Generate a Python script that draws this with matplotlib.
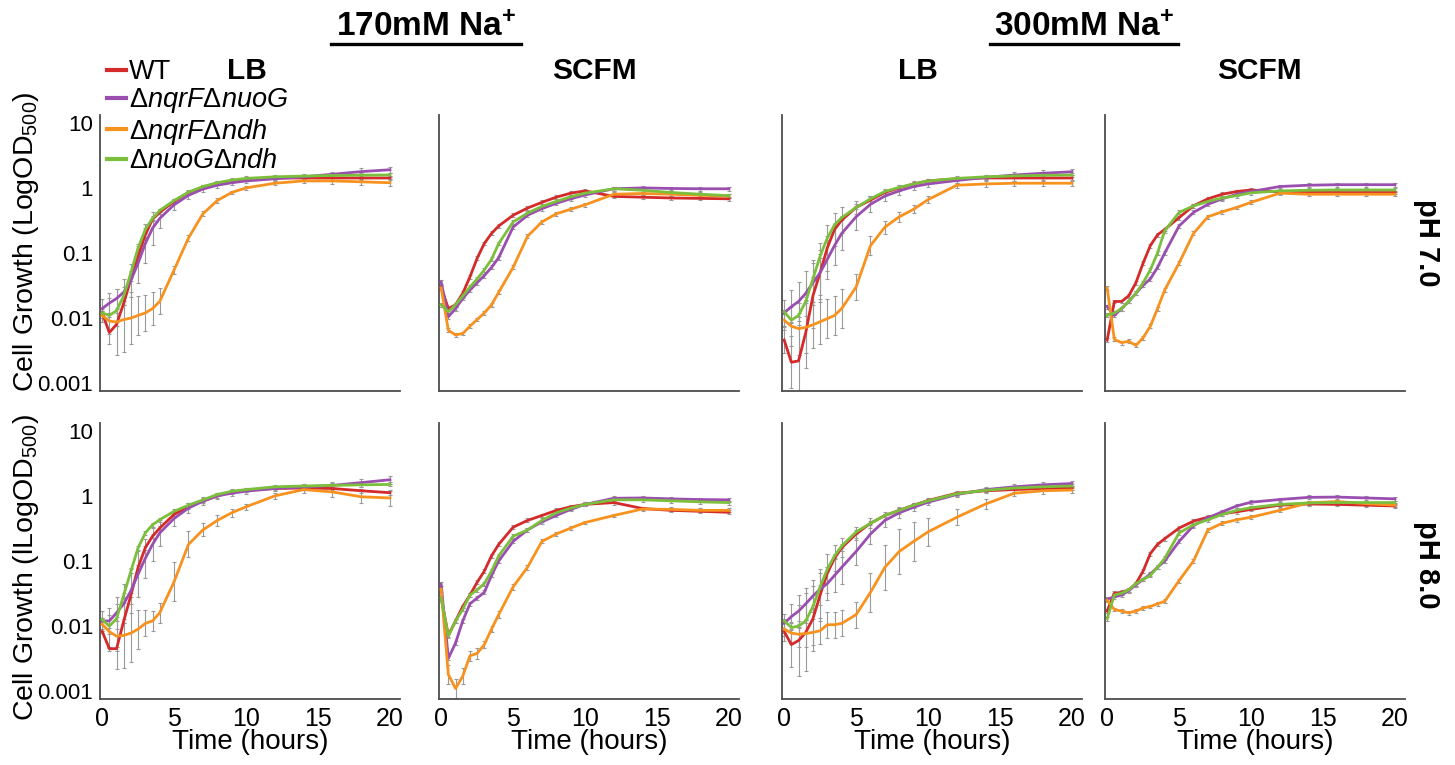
import matplotlib
matplotlib.use('Agg')
import matplotlib.pyplot as plt
from matplotlib.lines import Line2D
import numpy as np

plt.rcParams['font.family'] = ['Liberation Sans', 'DejaVu Sans']
plt.rcParams['mathtext.fontset'] = 'custom'
plt.rcParams['mathtext.rm'] = 'Liberation Sans'
plt.rcParams['mathtext.it'] = 'Liberation Sans:italic'
plt.rcParams['mathtext.bf'] = 'Liberation Sans:bold'

# ---- data (OD500) ----
hours = [0, 0.5, 1, 1.5, 2, 2.5, 3, 3.5, 4, 5, 6, 7, 8, 9, 10, 12, 14, 16, 18, 20]

strains = ["WT", "nqrF_nuoG", "nqrF_ndh", "nuoG_ndh"]
strain_labels = ["WT",
                 "Δ$\\mathit{nqrF}$Δ$\\mathit{nuoG}$",
                 "Δ$\\mathit{nqrF}$Δ$\\mathit{ndh}$",
                 "Δ$\\mathit{nuoG}$Δ$\\mathit{ndh}$"]
colors = {"WT": "#d42a2a", "nqrF_nuoG": "#9a4fb0",
          "nqrF_ndh": "#f7921e", "nuoG_ndh": "#7cbf3c"}

na170_lb_ph7 = {
    "WT":        [0.012, 0.006, 0.008, 0.017, 0.04, 0.09, 0.19, 0.33, 0.42, 0.62, 0.85, 1.02, 1.18, 1.28, 1.36, 1.42, 1.42, 1.42, 1.42, 1.42],
    "nqrF_nuoG": [0.014, 0.017, 0.02, 0.025, 0.038, 0.07, 0.14, 0.24, 0.34, 0.55, 0.77, 0.96, 1.1, 1.2, 1.28, 1.38, 1.48, 1.62, 1.78, 1.9],
    "nqrF_ndh":  [0.011, 0.009, 0.0087, 0.0095, 0.010, 0.011, 0.012, 0.014, 0.018, 0.055, 0.17, 0.4, 0.64, 0.85, 1.0, 1.18, 1.28, 1.28, 1.24, 1.2],
    "nuoG_ndh":  [0.012, 0.011, 0.013, 0.022, 0.05, 0.12, 0.23, 0.34, 0.45, 0.64, 0.86, 1.05, 1.2, 1.32, 1.4, 1.48, 1.52, 1.55, 1.57, 1.58],
}
na170_scfm_ph7 = {
    "WT":        [0.03, 0.014, 0.016, 0.024, 0.043, 0.083, 0.14, 0.2, 0.26, 0.38, 0.49, 0.6, 0.72, 0.83, 0.9, 0.74, 0.72, 0.7, 0.69, 0.68],
    "nqrF_nuoG": [0.036, 0.0105, 0.014, 0.02, 0.027, 0.035, 0.045, 0.06, 0.085, 0.25, 0.38, 0.48, 0.58, 0.68, 0.78, 0.97, 1.0, 0.98, 0.97, 0.97],
    "nqrF_ndh":  [0.029, 0.0065, 0.0055, 0.0058, 0.0075, 0.0095, 0.012, 0.016, 0.025, 0.06, 0.18, 0.3, 0.4, 0.47, 0.55, 0.8, 0.82, 0.8, 0.77, 0.75],
    "nuoG_ndh":  [0.016, 0.0125, 0.016, 0.022, 0.03, 0.04, 0.055, 0.08, 0.14, 0.3, 0.41, 0.52, 0.62, 0.73, 0.83, 0.97, 0.92, 0.85, 0.8, 0.76],
}
na300_lb_ph7 = {
    "WT":        [0.0046, 0.0021, 0.0022, 0.006, 0.022, 0.05, 0.12, 0.23, 0.32, 0.5, 0.65, 0.85, 1.0, 1.15, 1.28, 1.38, 1.42, 1.42, 1.42, 1.42],
    "nqrF_nuoG": [0.012, 0.015, 0.018, 0.024, 0.035, 0.05, 0.08, 0.13, 0.2, 0.36, 0.56, 0.75, 0.9, 1.05, 1.15, 1.3, 1.45, 1.58, 1.68, 1.77],
    "nqrF_ndh":  [0.0093, 0.0075, 0.0069, 0.0072, 0.0079, 0.0088, 0.0098, 0.011, 0.014, 0.03, 0.13, 0.25, 0.36, 0.47, 0.66, 1.1, 1.15, 1.18, 1.18, 1.18],
    "nuoG_ndh":  [0.0125, 0.0093, 0.011, 0.018, 0.04, 0.09, 0.17, 0.27, 0.35, 0.5, 0.68, 0.88, 1.02, 1.15, 1.28, 1.4, 1.48, 1.53, 1.56, 1.58],
}
na300_scfm_ph7 = {
    "WT":        [0.0046, 0.018, 0.018, 0.022, 0.035, 0.07, 0.13, 0.19, 0.23, 0.35, 0.53, 0.68, 0.8, 0.88, 0.93, 0.87, 0.86, 0.85, 0.85, 0.85],
    "nqrF_nuoG": [0.015, 0.011, 0.014, 0.018, 0.024, 0.032, 0.04, 0.06, 0.1, 0.26, 0.42, 0.56, 0.68, 0.8, 0.88, 1.05, 1.1, 1.12, 1.12, 1.12],
    "nqrF_ndh":  [0.029, 0.0047, 0.0042, 0.0044, 0.0038, 0.005, 0.0075, 0.014, 0.027, 0.07, 0.2, 0.36, 0.43, 0.5, 0.6, 0.83, 0.8, 0.8, 0.8, 0.8],
    "nuoG_ndh":  [0.011, 0.012, 0.014, 0.018, 0.024, 0.035, 0.055, 0.1, 0.22, 0.42, 0.53, 0.62, 0.7, 0.76, 0.84, 0.9, 0.92, 0.93, 0.93, 0.93],
}
na170_lb_ph8 = {
    "WT":        [0.0083, 0.0045, 0.0045, 0.012, 0.03, 0.08, 0.16, 0.24, 0.32, 0.52, 0.68, 0.83, 1.0, 1.15, 1.22, 1.3, 1.32, 1.3, 1.2, 1.12],
    "nqrF_nuoG": [0.012, 0.012, 0.016, 0.022, 0.035, 0.063, 0.11, 0.18, 0.27, 0.45, 0.65, 0.83, 1.0, 1.1, 1.18, 1.3, 1.37, 1.45, 1.6, 1.77],
    "nqrF_ndh":  [0.0107, 0.0082, 0.007, 0.0072, 0.0078, 0.009, 0.011, 0.012, 0.016, 0.048, 0.18, 0.3, 0.42, 0.55, 0.68, 1.0, 1.25, 1.15, 0.97, 0.93],
    "nuoG_ndh":  [0.0126, 0.01, 0.013, 0.03, 0.07, 0.16, 0.27, 0.36, 0.43, 0.58, 0.72, 0.87, 1.05, 1.18, 1.25, 1.38, 1.42, 1.45, 1.48, 1.5],
}
na170_scfm_ph8 = {
    "WT":        [0.027, 0.0072, 0.012, 0.02, 0.03, 0.047, 0.07, 0.12, 0.18, 0.33, 0.42, 0.5, 0.6, 0.68, 0.74, 0.79, 0.64, 0.6, 0.58, 0.56],
    "nqrF_nuoG": [0.044, 0.0032, 0.0055, 0.012, 0.022, 0.027, 0.033, 0.06, 0.1, 0.2, 0.3, 0.4, 0.5, 0.62, 0.74, 0.92, 0.93, 0.9, 0.88, 0.87],
    "nqrF_ndh":  [0.037, 0.0018, 0.0011, 0.0017, 0.0035, 0.0038, 0.0052, 0.009, 0.015, 0.04, 0.08, 0.2, 0.26, 0.32, 0.39, 0.5, 0.63, 0.62, 0.6, 0.6],
    "nuoG_ndh":  [0.027, 0.007, 0.012, 0.018, 0.03, 0.036, 0.045, 0.07, 0.12, 0.24, 0.3, 0.42, 0.55, 0.65, 0.74, 0.87, 0.87, 0.84, 0.81, 0.79],
}
na300_lb_ph8 = {
    "WT":        [0.0083, 0.0052, 0.006, 0.008, 0.013, 0.03, 0.065, 0.11, 0.16, 0.26, 0.38, 0.5, 0.6, 0.72, 0.85, 1.1, 1.2, 1.25, 1.3, 1.32],
    "nqrF_nuoG": [0.011, 0.014, 0.017, 0.022, 0.029, 0.037, 0.045, 0.06, 0.08, 0.14, 0.26, 0.42, 0.55, 0.67, 0.8, 1.05, 1.25, 1.38, 1.48, 1.55],
    "nqrF_ndh":  [0.009, 0.0078, 0.0075, 0.0077, 0.008, 0.0085, 0.0105, 0.0105, 0.011, 0.015, 0.033, 0.08, 0.14, 0.2, 0.28, 0.47, 0.75, 1.1, 1.2, 1.23],
    "nuoG_ndh":  [0.012, 0.0095, 0.01, 0.012, 0.02, 0.04, 0.075, 0.12, 0.17, 0.28, 0.38, 0.5, 0.6, 0.72, 0.84, 1.08, 1.22, 1.32, 1.38, 1.42],
}
na300_scfm_ph8 = {
    "WT":        [0.017, 0.032, 0.033, 0.036, 0.045, 0.07, 0.13, 0.18, 0.22, 0.32, 0.41, 0.47, 0.53, 0.57, 0.62, 0.72, 0.75, 0.74, 0.72, 0.7],
    "nqrF_nuoG": [0.026, 0.028, 0.03, 0.035, 0.043, 0.052, 0.063, 0.08, 0.1, 0.2, 0.35, 0.46, 0.57, 0.7, 0.8, 0.88, 0.95, 0.96, 0.93, 0.9],
    "nqrF_ndh":  [0.025, 0.018, 0.017, 0.016, 0.017, 0.019, 0.02, 0.022, 0.024, 0.05, 0.1, 0.3, 0.38, 0.43, 0.47, 0.6, 0.78, 0.82, 0.76, 0.72],
    "nuoG_ndh":  [0.013, 0.03, 0.032, 0.036, 0.045, 0.052, 0.06, 0.08, 0.11, 0.27, 0.36, 0.43, 0.52, 0.6, 0.66, 0.74, 0.78, 0.79, 0.79, 0.79],
}

# error bars, half-width in decades (only where they are visibly large)
err_na170_lb_ph7 = {
    "nqrF_ndh":  [0.1, 0.35, 0.5, 0.5, 0.4, 0.3, 0.28, 0.25, 0.2, 0.06, 0.05, 0.04, 0.04, 0.03, 0.03, 0.03, 0.03, 0.04, 0.05, 0.05],
    "nqrF_nuoG": [0.15, 0.15, 0.15, 0.2, 0.25, 0.3, 0.3, 0.25, 0.15, 0.08, 0.05, 0.04, 0.04, 0.03, 0.03, 0.03, 0.03, 0.04, 0.05, 0.05],
}
err_na300_lb_ph7 = {
    "WT":        [0.2, 0.4, 0.55, 0.55, 0.5, 0.45, 0.35, 0.25, 0.2, 0.1, 0.06, 0.05, 0.04, 0.04, 0.03, 0.03, 0.03, 0.04, 0.05, 0.05],
    "nqrF_ndh":  [0.15, 0.3, 0.4, 0.4, 0.35, 0.35, 0.3, 0.3, 0.3, 0.2, 0.15, 0.1, 0.08, 0.06, 0.05, 0.04, 0.04, 0.04, 0.05, 0.05],
    "nqrF_nuoG": [0.2, 0.25, 0.3, 0.35, 0.35, 0.35, 0.3, 0.3, 0.25, 0.2, 0.12, 0.08, 0.06, 0.05, 0.04, 0.04, 0.04, 0.04, 0.05, 0.05],
}
err_na170_lb_ph8 = {
    "nqrF_ndh":  [0.1, 0.25, 0.5, 0.5, 0.45, 0.3, 0.2, 0.15, 0.15, 0.3, 0.2, 0.1, 0.08, 0.06, 0.05, 0.05, 0.05, 0.08, 0.1, 0.12],
    "nqrF_nuoG": [0.15, 0.2, 0.25, 0.3, 0.35, 0.35, 0.3, 0.25, 0.2, 0.12, 0.08, 0.06, 0.05, 0.04, 0.04, 0.04, 0.04, 0.05, 0.06, 0.06],
}
err_na170_scfm_ph8 = {
    "nqrF_ndh":  [0.05, 0.15, 0.15, 0.12, 0.08, 0.08, 0.06, 0.05, 0.05, 0.04, 0.04, 0.03, 0.03, 0.03, 0.03, 0.03, 0.03, 0.03, 0.03, 0.03],
}
err_na300_lb_ph8 = {
    "WT":        [0.15, 0.35, 0.55, 0.6, 0.5, 0.4, 0.3, 0.2, 0.15, 0.1, 0.08, 0.06, 0.05, 0.04, 0.04, 0.03, 0.03, 0.03, 0.03, 0.03],
    "nqrF_ndh":  [0.1, 0.15, 0.2, 0.2, 0.2, 0.2, 0.2, 0.2, 0.2, 0.2, 0.3, 0.35, 0.35, 0.3, 0.22, 0.12, 0.08, 0.05, 0.05, 0.05],
    "nqrF_nuoG": [0.15, 0.2, 0.25, 0.25, 0.25, 0.25, 0.25, 0.25, 0.25, 0.2, 0.15, 0.1, 0.08, 0.06, 0.05, 0.04, 0.04, 0.04, 0.04, 0.04],
}

panel_grid = [
    [(na170_lb_ph7, err_na170_lb_ph7), (na170_scfm_ph7, {}),
     (na300_lb_ph7, err_na300_lb_ph7), (na300_scfm_ph7, {})],
    [(na170_lb_ph8, err_na170_lb_ph8), (na170_scfm_ph8, err_na170_scfm_ph8),
     (na300_lb_ph8, err_na300_lb_ph8), (na300_scfm_ph8, {})],
]
media = ["LB", "SCFM", "LB", "SCFM"]
ph_labels = ["pH 7.0", "pH 8.0"]
ylabels = ["Cell Growth (LogOD$_{500}$)", "Cell Growth (lLogOD$_{500}$)"]

SMALL_ERR = 0.03   # tiny caps drawn along every curve

# ---- layout (pixel boxes of the original) ----
W, H = 1455, 765
col_left = [100, 439, 782, 1105]
col_w = 300
row_top = [115, 423]
row_h = 276

fig = plt.figure(figsize=(W / 100, H / 100), dpi=100)
t = np.array(hours)

for r in range(2):
    for c in range(4):
        data, errs = panel_grid[r][c]
        ax = fig.add_axes([col_left[c] / W, 1 - (row_top[r] + row_h) / H,
                           col_w / W, row_h / H])
        for s in strains:
            y = np.array(data[s])
            e = np.array(errs.get(s, [SMALL_ERR] * len(hours)))
            lo = y - y / 10 ** e
            hi = y * 10 ** e - y
            ax.errorbar(t, y, yerr=[lo, hi], fmt='none', ecolor='#9a9a9a',
                        elinewidth=0.8, capsize=1.5, capthick=0.8, zorder=1)
        for s in strains:
            ax.plot(t, data[s], color=colors[s], lw=2, zorder=3)

        ax.set_yscale('log')
        ax.set_ylim(10 ** -3.12, 10 ** 1.12)
        ax.set_xlim(-0.15, 20.7)
        for side in ['top', 'right']:
            ax.spines[side].set_visible(False)
        for side in ['left', 'bottom']:
            ax.spines[side].set_color('#4d4d4d')
            ax.spines[side].set_linewidth(1.3)
        ax.tick_params(which='both', length=0)
        ax.minorticks_off()
        ax.set_yticks([0.001, 0.01, 0.1, 1, 10])
        if c == 0:
            ax.set_yticklabels(['0.001', '0.01', '0.1', '1', '10'], fontsize=16)
            ax.tick_params(axis='y', pad=5)
        else:
            ax.set_yticklabels([])
        ax.set_xticks([0, 5, 10, 15, 20])
        if r == 1:
            ax.set_xticklabels(['0', '5', '10', '15', '20'], fontsize=18)
            ax.tick_params(axis='x', pad=6)
            ax.set_xlabel('Time (hours)', fontsize=20, labelpad=-2)
        else:
            ax.set_xticklabels([])

# y labels
for r, yc in enumerate([242, 568]):
    fig.text(26 / W, 1 - yc / H, ylabels[r], rotation=90, ha='center',
             va='center', fontsize=20.5)

# row labels
for r, yc in enumerate([243, 565]):
    fig.text(1427 / W, 1 - yc / H, ph_labels[r], rotation=270, ha='center',
             va='center', fontsize=21, fontweight='bold')

# medium labels
for xc, m in zip([247, 594, 918, 1259], media):
    fig.text(xc / W, 1 - 79 / H, m, ha='center', va='baseline',
             fontsize=21.5, fontweight='bold')

# salt headers, underlined
for xc, x0, x1, txt in [(426, 331, 521, "170mM Na$^\\mathbf{+}$"),
                        (1084, 990, 1178, "300mM Na$^\\mathbf{+}$")]:
    fig.text(xc / W, 1 - 27 / H, txt, ha='center', va='center',
             fontsize=24, fontweight='bold')
    fig.add_artist(Line2D([x0 / W, x1 / W], [1 - 44 / H, 1 - 44 / H],
                          color='black', lw=2.4))

# legend
handles = [Line2D([0], [0], color=colors[s], lw=3) for s in strains]
fig.legend(handles, strain_labels, loc='upper left',
           bbox_to_anchor=(107 / W, 1 - 59 / H), frameon=False,
           fontsize=19.5, handlelength=0.7, handletextpad=0.1,
           labelspacing=0.05, borderpad=0, borderaxespad=0)

plt.savefig('out.png', dpi=100)
plt.close()
